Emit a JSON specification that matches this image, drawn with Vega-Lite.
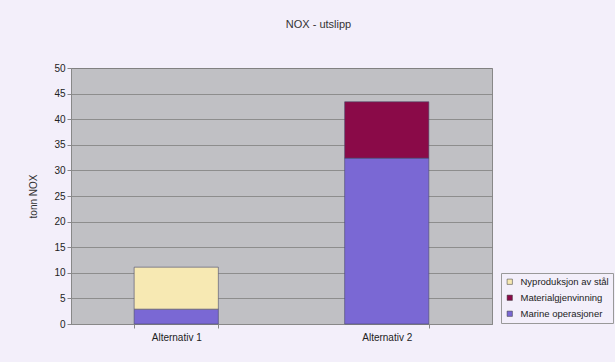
{
  "$schema": "https://vega.github.io/schema/vega-lite/v6.json",
  "autosize": "none",
  "padding": {"left": 71, "top": 68, "right": 123, "bottom": 38},
  "width": 421,
  "height": 256,
  "background": "#f3effa",
  "title": {
    "text": "NOX - utslipp",
    "font": "Liberation Sans",
    "fontSize": 11,
    "fontWeight": "normal",
    "color": "#333333",
    "offset": 33,
    "dx": 37
  },
  "data": {
    "values": [
      {"alternativ": "Alternativ 1", "kilde": "Marine operasjoner", "nox": 2.9},
      {"alternativ": "Alternativ 1", "kilde": "Nyproduksjon av stål", "nox": 8.2},
      {"alternativ": "Alternativ 2", "kilde": "Marine operasjoner", "nox": 32.4},
      {"alternativ": "Alternativ 2", "kilde": "Materialgjenvinning", "nox": 11.0}
    ]
  },
  "mark": {"type": "bar", "stroke": "#4a4a6a", "strokeWidth": 0.6},
  "encoding": {
    "x": {
      "field": "alternativ",
      "type": "nominal",
      "title": null,
      "scale": {"paddingInner": 0.6, "paddingOuter": 0.3},
      "axis": {
        "labelAngle": 0,
        "labelFont": "Liberation Sans",
        "labelFontSize": 10,
        "labelColor": "#222222",
        "labelPadding": 4,
        "domainColor": "#888888",
        "tickColor": "#888888",
        "tickBand": "extent",
        "tickSize": 4
      }
    },
    "y": {
      "field": "nox",
      "type": "quantitative",
      "stack": "zero",
      "title": "tonn NOX",
      "scale": {"domain": [0, 50], "nice": false},
      "axis": {
        "values": [0, 5, 10, 15, 20, 25, 30, 35, 40, 45, 50],
        "labelFont": "Liberation Sans",
        "labelFontSize": 10,
        "labelColor": "#222222",
        "titleFont": "Liberation Sans",
        "titleFontSize": 10,
        "titleFontWeight": "normal",
        "titleColor": "#333333",
        "titlePadding": 15,
        "domainColor": "#888888",
        "tickColor": "#888888",
        "tickSize": 4,
        "gridColor": "#808080",
        "gridOpacity": 0.8,
        "gridWidth": 1
      }
    },
    "color": {
      "field": "kilde",
      "type": "nominal",
      "scale": {
        "domain": ["Nyproduksjon av stål", "Materialgjenvinning", "Marine operasjoner"],
        "range": ["#f7e9b3", "#8a0a48", "#7a68d4"]
      },
      "legend": {
        "title": null,
        "orient": "none",
        "legendX": 430,
        "legendY": 205,
        "symbolType": "square",
        "symbolSize": 28,
        "symbolStrokeColor": "#333333",
        "symbolStrokeWidth": 0.5,
        "labelFont": "Liberation Sans",
        "labelFontSize": 9.5,
        "labelColor": "#222222",
        "labelLimit": 200,
        "labelOffset": 6,
        "rowPadding": 5,
        "strokeColor": "#999999",
        "padding": 4
      }
    },
    "order": {"field": "kilde", "sort": "ascending"}
  },
  "config": {
    "view": {"fill": "#c0c0c4", "stroke": "#888888"}
  }
}
